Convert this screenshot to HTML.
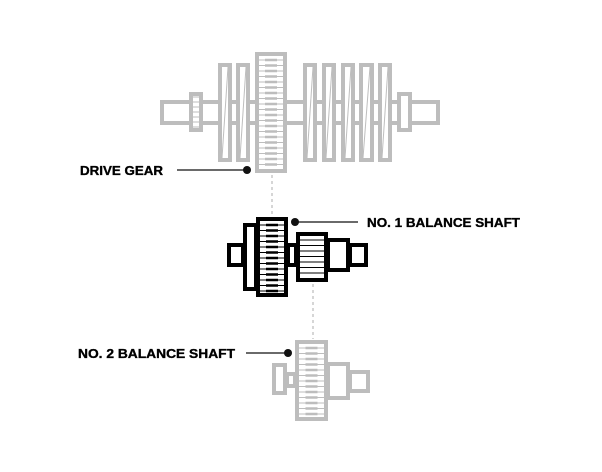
<!DOCTYPE html>
<html><head><meta charset="utf-8"><style>html,body{margin:0;padding:0;background:#fff}svg{display:block}</style></head>
<body>
<svg id="s" width="602" height="472" viewBox="0 0 602 472" xmlns="http://www.w3.org/2000/svg">
<g font-family="Liberation Sans, sans-serif" font-weight="bold" font-size="13" fill="#000" stroke="#000" stroke-width="0.35">
<text x="80" y="175" textLength="83" lengthAdjust="spacingAndGlyphs">DRIVE GEAR</text>
<text x="367" y="227" textLength="153" lengthAdjust="spacingAndGlyphs">NO. 1 BALANCE SHAFT</text>
<text x="78" y="358" textLength="157" lengthAdjust="spacingAndGlyphs">NO. 2 BALANCE SHAFT</text>
</g>
<g stroke="#111" stroke-width="1.3">
<line x1="177" y1="170" x2="247" y2="170"/>
<line x1="295" y1="222" x2="358" y2="222"/>
<line x1="246" y1="353" x2="288" y2="353"/>
</g>
<g fill="#111"><circle cx="247" cy="170" r="4"/><circle cx="295" cy="222" r="4"/><circle cx="288" cy="353" r="4"/></g>
<g stroke="#bbb" stroke-width="1.2" stroke-dasharray="3,3">
<line x1="272" y1="175" x2="272" y2="215"/>
<line x1="313" y1="284" x2="313" y2="339"/>
</g>
<g id="top" fill="#fff" stroke="#bdbdbd" stroke-width="4"></g>
<g id="mid" fill="#fff" stroke="#000" stroke-width="4"></g>
<g id="bot" fill="#fff" stroke="#bdbdbd" stroke-width="4"></g>
</svg>
<script>
var NS="http://www.w3.org/2000/svg";
function el(g,t,a){var e=document.createElementNS(NS,t);for(var k in a)e.setAttribute(k,a[k]);g.appendChild(e);return e;}
function R(g,x1,y1,x2,y2){el(g,'rect',{x:x1+2,y:y1+2,width:x2-x1-4,height:y2-y1-4});}
function gear(g,x1,y1,x2,y2,col,tick){R(g,x1,y1,x2,y2);
 var ix1=x1+4,ix2=x2-4;var cx=(x1+x2)/2;
 for(var y=y1+8;y<y2-5;y+=5.5){el(g,'line',{x1:ix1,y1:y,x2:ix2,y2:y,stroke:col,'stroke-width':1});
  if(tick)el(g,'line',{x1:cx-6,y1:y,x2:cx+6,y2:y,stroke:col,'stroke-width':2.5});}}
function plate(g,x1,y1,x2,y2,col){R(g,x1,y1,x2,y2);
 el(g,'polyline',{points:(x1+4)+','+(y2-4)+' '+(x2-4)+','+(y1+4),fill:'none',stroke:col,'stroke-width':1});}
var t=document.getElementById('top'),c='#bdbdbd';
R(t,160,100,440,125);
R(t,189,92,203,132);
for(var y=97;y<130;y+=5)el(t,'line',{x1:191,y1:y,x2:201,y2:y,stroke:c,'stroke-width':1});
[[218,232],[236,250],[303,317],[322,336],[341,355],[359,374],[378,392]].forEach(function(p){plate(t,p[0],63,p[1],162,c);});
R(t,397,92,412,132);
gear(t,255,52,287,173,c,true);
var m=document.getElementById('mid');
R(m,227,243,245,267);R(m,243,223,258,291);R(m,286,243,298,267);
R(m,326,238,350,272);R(m,348,243,368,267);
gear(m,296,232,328,282,'#000',false);
gear(m,256,217,288,297,'#000',true);
var b=document.getElementById('bot');
R(b,272,363,287,395);R(b,285,372,297,388);
R(b,326,362,350,400);R(b,348,370,370,393);
gear(b,295,340,328,421,c,true);
</script>
</body></html>
